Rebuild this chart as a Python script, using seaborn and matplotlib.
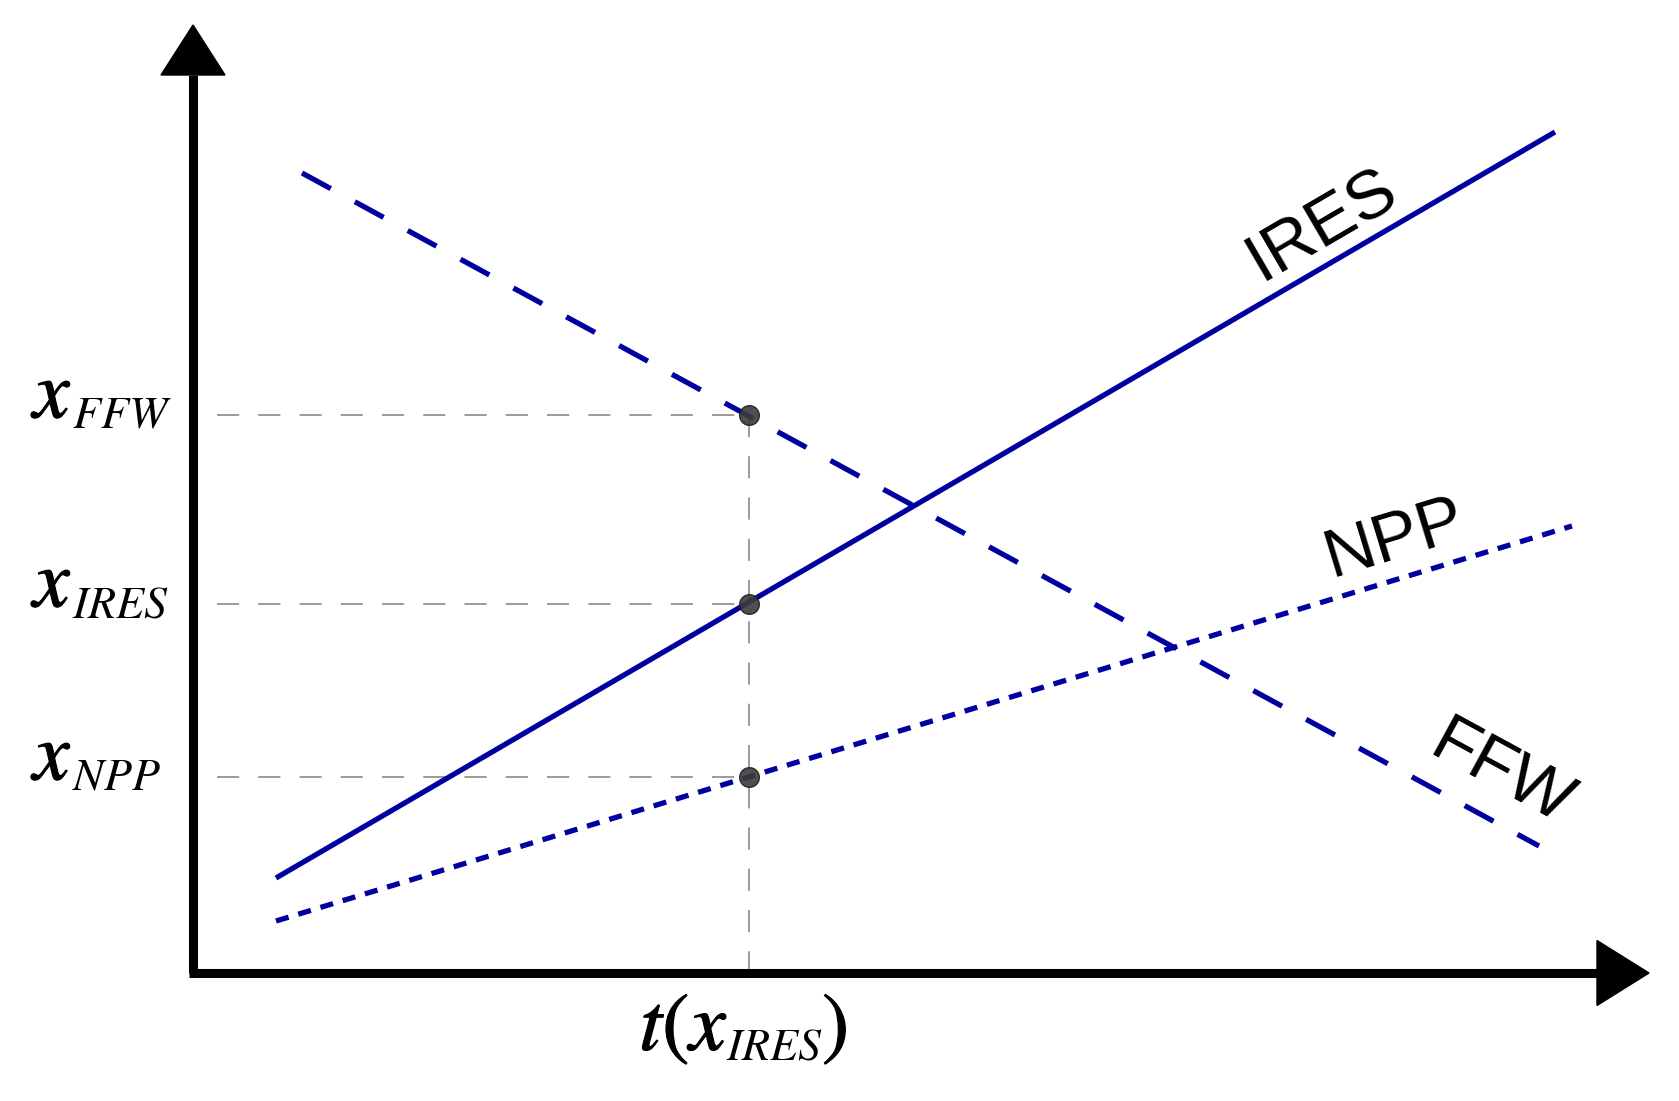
import numpy as np
import pandas as pd
import seaborn as sns
import matplotlib
matplotlib.use("Agg")
import matplotlib.pyplot as plt
import matplotlib.patheffects as pe
from matplotlib.patches import Polygon

# ---- data (abstract units: time t, quantity x) ----
series = ["IRES", "FFW", "NPP"]
ires_t = [0.83, 13.62]
ires_x = [0.95, 8.41]
ffw_t = [1.09, 13.46]
ffw_x = [8.00, 1.27]
npp_t = [0.83, 13.79]
npp_x = [0.52, 4.47]

t_mark = 5.56                      # t(x_IRES)
levels = [5.58, 3.69, 1.96]        # x_FFW, x_IRES, x_NPP
level_names = ["FFW", "IRES", "NPP"]
t_name = "IRES"

sns.set_theme(style="white")
plt.rcParams["mathtext.fontset"] = "stix"
plt.rcParams["font.family"] = ["Liberation Sans", "DejaVu Sans"]

W, H, DPI = 1679, 1101, 100
fig = plt.figure(figsize=(W / DPI, H / DPI), dpi=DPI)
ax = fig.add_axes([0, 0, 1, 1])
ax.set_xlim(-1.93, 14.86)
ax.set_ylim(-1.28, 9.73)
ax.axis("off")

blue = "#0000a0"
lw = 3.8

df = pd.DataFrame({
    "t": ires_t + ffw_t + npp_t,
    "x": ires_x + ffw_x + npp_x,
    "series": ["IRES"] * 2 + ["FFW"] * 2 + ["NPP"] * 2,
})
styles = {"IRES": "-", "FFW": (0, (6.2, 5.2)), "NPP": (0, (2.5, 1.9))}
for s in series:
    sub = df[df["series"] == s]
    sns.lineplot(data=sub, x="t", y="x", ax=ax, color=blue, linewidth=lw,
                 linestyle=styles[s], legend=False, zorder=3,
                 solid_capstyle="butt", dash_capstyle="butt")

# grey dashed guides
grey = "#808080"
guide_dash = (0, (14.5, 12.5))
for lv in levels:
    ax.plot([0.24, t_mark], [lv, lv], color=grey, lw=1.1, linestyle=guide_dash, zorder=2)
ax.plot([t_mark, t_mark], [max(levels), 0], color=grey, lw=1.1, linestyle=guide_dash, zorder=2)

# points
pts = pd.DataFrame({"t": [t_mark] * 3, "x": levels})
sns.scatterplot(data=pts, x="t", y="x", ax=ax, s=200, color="#3c3c3c",
                edgecolor="#202020", linewidth=1.0, alpha=0.9, zorder=5)

# axes with arrow heads
ax.plot([0, 0], [0, 8.98], color="black", lw=6.5, solid_capstyle="butt", zorder=6)
ax.plot([-0.045, 14.04], [0, 0], color="black", lw=6.5, solid_capstyle="butt", zorder=6)
ax.add_patch(Polygon([[-0.32, 8.98], [0.32, 8.98], [0, 9.48]], closed=True,
                     color="black", zorder=6))
ax.add_patch(Polygon([[14.04, 0.325], [14.04, -0.325], [14.56, 0]], closed=True,
                     color="black", zorder=6))

# level labels: big italic x plus italic subscript
MAIN, SUB = 59, 33
heavy = [pe.withStroke(linewidth=0.8, foreground="black")]
x_split = -1.21
for lv, nm in zip(levels, level_names):
    ax.text(x_split + 0.02, lv - 0.03, r"$x$", ha="right", va="baseline",
            fontsize=MAIN, color="black", path_effects=heavy)
    ax.text(x_split, lv - 0.13, rf"$\mathit{{{nm}}}$", ha="left", va="baseline",
            fontsize=SUB, color="black")

# t(x_IRES) label
t_split = 5.33
ax.text(t_split + 0.02, -0.77, r"$t(x$", ha="right", va="baseline",
        fontsize=MAIN, color="black", path_effects=heavy)
ax.text(t_split, -0.87, rf"$\mathit{{{t_name}}}$", ha="left", va="baseline",
        fontsize=SUB, color="black")
ax.text(6.29, -0.77, r"$)$", ha="left", va="baseline", fontsize=MAIN, color="black",
        path_effects=heavy)

# line labels, rotated along their lines (computed in display space)
def angle(tt, xx):
    p = ax.transData.transform(np.column_stack([tt, xx]))
    d = p[1] - p[0]
    return np.degrees(np.arctan2(d[1], d[0]))

ax.text(11.29, 7.48, "IRES", rotation=angle(ires_t, ires_x), rotation_mode="anchor",
        ha="center", va="center", fontsize=50, color="black")
ax.text(12.01, 4.34, "NPP", rotation=angle(npp_t, npp_x), rotation_mode="anchor",
        ha="center", va="center", fontsize=50, color="black")
ax.text(13.08, 1.99, "FFW", rotation=angle(ffw_t, ffw_x), rotation_mode="anchor",
        ha="center", va="center", fontsize=50, color="black")

fig.savefig("out.png", dpi=DPI, facecolor="white")
